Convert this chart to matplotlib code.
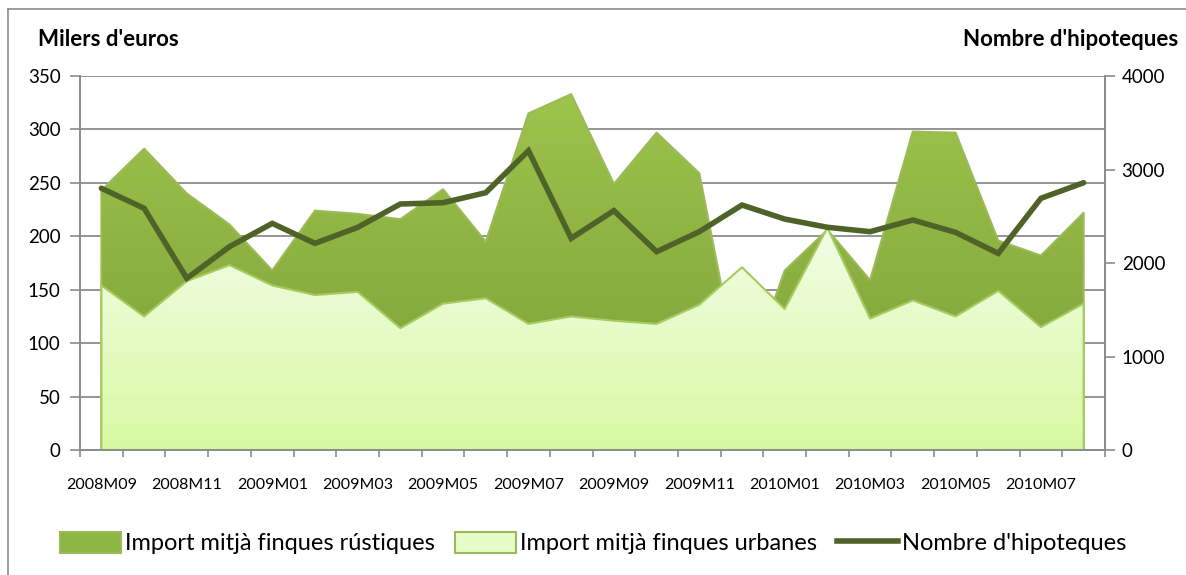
import matplotlib
matplotlib.use("Agg")
import matplotlib.pyplot as plt
import numpy as np
from matplotlib.colors import LinearSegmentedColormap
from matplotlib.patches import Patch
from matplotlib.lines import Line2D

plt.rcParams["font.family"] = ["Lato", "DejaVu Sans"]

months = [
    "2008M09", "2008M10", "2008M11", "2008M12", "2009M01", "2009M02",
    "2009M03", "2009M04", "2009M05", "2009M06", "2009M07", "2009M08",
    "2009M09", "2009M10", "2009M11", "2009M12", "2010M01", "2010M02",
    "2010M03", "2010M04", "2010M05", "2010M06", "2010M07", "2010M08",
]
rustiques = [243, 282, 240, 211, 168, 224, 221, 216, 244, 195, 315, 333,
             249, 297, 259, 55, 168, 206, 159, 298, 297, 196, 182, 222]
urbanes = [154, 125, 158, 173, 154, 145, 148, 114, 137, 142, 118, 125,
           121, 118, 136, 171, 132, 208, 123, 140, 125, 149, 115, 137]
hipoteques = [2799, 2585, 1836, 2175, 2424, 2210, 2381, 2631, 2645, 2752, 3201, 2264,
              2560, 2121, 2335, 2620, 2470, 2382, 2335, 2460, 2328, 2103, 2692, 2859]

GRID = "#8c8c8c"
LINE = "#4f6228"

fig = plt.figure(figsize=(11.86, 5.75), dpi=100)
ax = fig.add_axes([0.0675, 0.2174, 0.8642, 0.6504])
x = np.arange(len(months))


def gradient_area(ax, y, top, bottom, edge, z):
    poly = ax.fill_between(x, 0, y, facecolor="none", edgecolor=edge, linewidth=1.5, zorder=z + 0.1)
    cmap = LinearSegmentedColormap.from_list("g", [bottom, top])
    grad = np.linspace(0, 1, 256).reshape(-1, 1)
    im = ax.imshow(grad, cmap=cmap, aspect="auto", origin="lower",
                   extent=[-0.5, 23.5, 0, max(y)], zorder=z)
    im.set_clip_path(poly.get_paths()[0], transform=ax.transData)
    return poly


gradient_area(ax, rustiques, "#9dc44c", "#7b9c37", "#9bbb59", 2)
gradient_area(ax, urbanes, "#f2fde6", "#d8f9a2", "#a6cc5f", 3)

ax.set_xlim(-0.5, 23.5)
ax.set_ylim(0, 350)
ax.set_yticks(np.arange(0, 351, 50))
ax.yaxis.grid(True, color=GRID, linewidth=1.3, zorder=1)
ax.set_axisbelow(True)
ax.set_xticks(x[::2])
ax.set_xticklabels(months[::2], fontsize=11.5)
ax.set_xticks(np.arange(-0.5, 24, 1), minor=True)
ax.tick_params(axis="x", which="major", length=0, pad=20)
ax.tick_params(axis="x", which="minor", length=5, color=GRID, width=1.2)
ax.tick_params(axis="y", length=7, color=GRID, width=1.2, labelsize=13.5, pad=7)
ax.spines["top"].set_visible(False)
for s in ["left", "bottom", "right"]:
    ax.spines[s].set_color(GRID)
    ax.spines[s].set_linewidth(1.3)

ax2 = ax.twinx()
ax2.plot(x, hipoteques, color=LINE, linewidth=4, solid_capstyle="round", solid_joinstyle="miter", zorder=5)
ax2.set_ylim(0, 4000)
ax2.set_yticks(np.arange(0, 4001, 1000))
ax2.tick_params(axis="y", length=7, color=GRID, width=1.2, labelsize=13.5, pad=5)
ax2.spines["top"].set_visible(False)
for s in ["left", "bottom", "right"]:
    ax2.spines[s].set_color(GRID)
    ax2.spines[s].set_linewidth(1.3)

fig.text(38 / 1186, 1 - 40 / 575, "Milers d'euros", fontsize=16, fontweight="bold", va="center", ha="left")
fig.text(1178 / 1186, 1 - 40 / 575, "Nombre d'hipoteques", fontsize=16, fontweight="bold", va="center", ha="right")

handles = [
    Patch(facecolor="#8db543", edgecolor="#9bbb59", linewidth=1.5),
    Patch(facecolor="#e6fbc8", edgecolor="#9bbb59", linewidth=1.5),
    Line2D([0], [0], color=LINE, linewidth=4),
]
labels = ["Import mitjà finques rústiques", "Import mitjà finques urbanes", "Nombre d'hipoteques"]
fig.legend(handles, labels, loc="center", bbox_to_anchor=(0.5, 1 - 543 / 575), ncol=3, frameon=False,
           fontsize=17, handlelength=2.6, handleheight=1.0, handletextpad=0.15, columnspacing=0.85)

# chart frame (top and left edges visible in the reference)
fig.add_artist(Line2D([8 / 1186, 8 / 1186], [0, 1 - 9 / 575], transform=fig.transFigure, color=GRID, linewidth=1.2))
fig.add_artist(Line2D([8 / 1186, 1], [1 - 9 / 575, 1 - 9 / 575], transform=fig.transFigure, color=GRID, linewidth=1.2))

fig.savefig("out.png", dpi=100, facecolor="white")
